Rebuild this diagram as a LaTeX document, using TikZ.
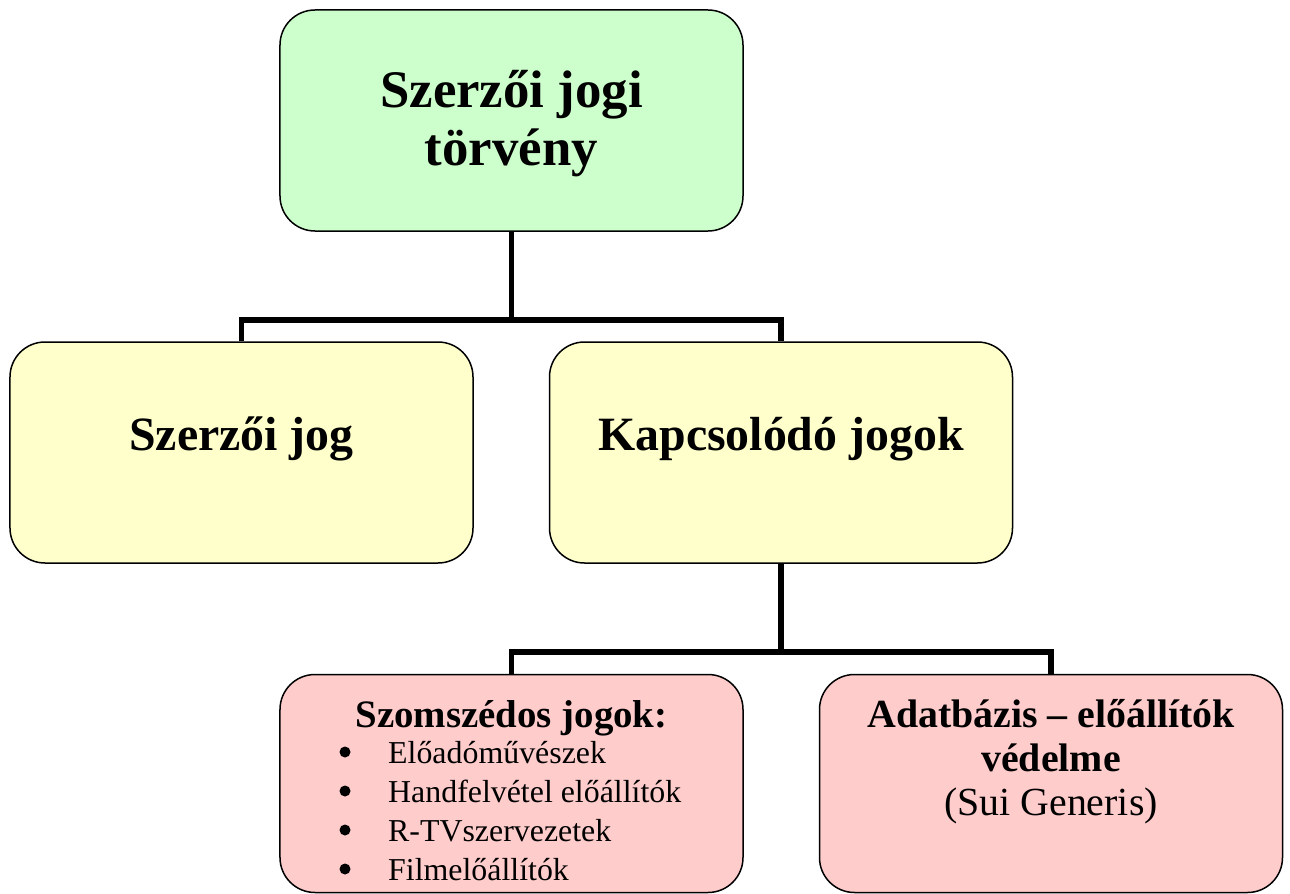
\documentclass[tikz,border=0pt]{standalone}
\usepackage{fontspec}
\setmainfont{Liberation Serif}
\usetikzlibrary{calc}
\definecolor{lawgreen}{HTML}{CCFFCC}
\definecolor{rightyellow}{HTML}{FFFFCC}
\definecolor{relpink}{HTML}{FFCCCC}
\tikzstyle{rbox} = [
    draw=black,
    line width=1.5bp,
    rounded corners=35bp,
    minimum width=463bp,
    minimum height=221bp,
    inner sep=0pt
    ]
\tikzstyle{bigtitle} = [font=\fontsize{53}{58}\selectfont\bfseries, align=center, anchor=base]
\tikzstyle{title} = [font=\fontsize{48}{54}\selectfont\bfseries, anchor=base]
\tikzstyle{subtitle} = [font=\fontsize{40}{44}\selectfont, align=center, anchor=base]
\tikzstyle{item} = [font=\fontsize{32}{39}\selectfont, anchor=base west, inner sep=0pt]
\tikzstyle{dot} = [circle, fill=black, inner sep=0pt, minimum size=11bp]
\tikzstyle{link} = [line width=5.5bp]
\begin{document}
\begin{tikzpicture}[x=1bp, y=-1bp]
\useasboundingbox (0,0) rectangle (1290,894);
% boxes
\node[rbox, fill=lawgreen] (law) at (511.5,120.5) {};
\node[rbox, fill=rightyellow] (author) at (241.5,452.5) {};
\node[rbox, fill=rightyellow] (related) at (781,452.5) {};
\node[rbox, fill=relpink, minimum height=218bp] (neigh) at (511.5,783.5) {};
\node[rbox, fill=relpink, minimum height=218bp] (dbase) at (1051,783.5) {};
% texts (base = last line)
\node[bigtitle] (lawtext) at (511.5,165) {Szerzői jogi\\törvény};
\node[title] (authortext) at (241.5,450) {Szerzői jog};
\node[title] (relatedtext) at (781,450) {Kapcsolódó jogok};
\node[subtitle, font=\fontsize{39}{44}\selectfont\bfseries] (neightext) at (511.5,727) {Szomszédos jogok:};
\node[subtitle] (dbasetext) at (1051,815) {\textbf{Adatbázis – előállítók}\\\textbf{védelme}\\(Sui Generis)};
\foreach \t [count=\k] in {Előadóművészek, Handfelvétel előállítók, R-TVszervezetek, Filmelőállítók}{
    \node[item] (item\k) at (388,724+39*\k) {\t};
    \node[dot] (dot\k) at (345,713+39*\k) {};
}
% connectors
\coordinate (j1) at (511.5,320);
\coordinate (j2) at (781,652);
\draw[link] (law.south) -- (j1);
\draw[link] (author.north) |- (j1) -| (related.north);
\draw[link] (related.south) -- (j2);
\draw[link] (neigh.north) |- (j2) -| (dbase.north);
\end{tikzpicture}
\end{document}
